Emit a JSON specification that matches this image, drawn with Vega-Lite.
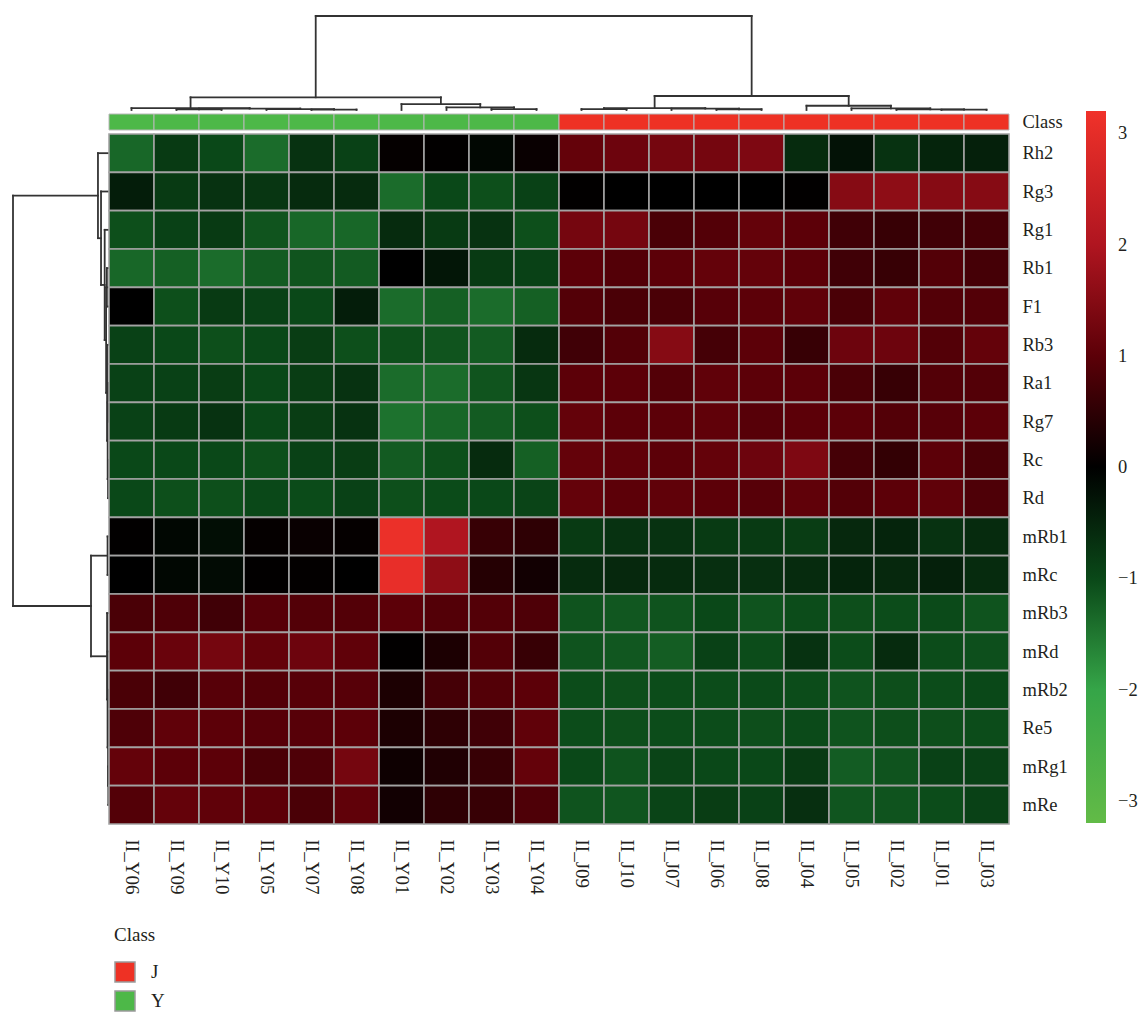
{
  "$schema": "https://vega.github.io/schema/vega-lite/v6.json",
  "padding": {"left": 11, "top": 14, "right": 0, "bottom": 0},
  "background": "white",
  "config": {"view": {"stroke": null}, "font": "Liberation Serif, DejaVu Serif, serif"},
  "bounds": "flush",
  "spacing": 0,
  "datasets": {
    "heat": [
      {"compound": "Rh2", "II_Y06": -1.33, "II_Y09": -0.8, "II_Y10": -1.0, "II_Y05": -1.39, "II_Y07": -0.7, "II_Y08": -0.9, "II_Y01": 0.05, "II_Y02": 0.02, "II_Y03": -0.1, "II_Y04": 0.1, "II_J09": 1.1, "II_J10": 1.2, "II_J07": 1.3, "II_J06": 1.3, "II_J08": 1.4, "II_J04": -0.6, "II_J05": -0.25, "II_J02": -0.7, "II_J01": -0.5, "II_J03": -0.45},
      {"compound": "Rg3", "II_Y06": -0.4, "II_Y09": -0.8, "II_Y10": -0.7, "II_Y05": -0.75, "II_Y07": -0.6, "II_Y08": -0.6, "II_Y01": -1.39, "II_Y02": -1.0, "II_Y03": -1.07, "II_Y04": -0.9, "II_J09": 0.02, "II_J10": 0.0, "II_J07": 0.0, "II_J06": 0.0, "II_J08": 0.0, "II_J04": 0.02, "II_J05": 1.5, "II_J02": 1.6, "II_J01": 1.5, "II_J03": 1.5},
      {"compound": "Rg1", "II_Y06": -1.07, "II_Y09": -0.9, "II_Y10": -0.8, "II_Y05": -1.13, "II_Y07": -1.33, "II_Y08": -1.33, "II_Y01": -0.6, "II_Y02": -0.8, "II_Y03": -0.7, "II_Y04": -1.07, "II_J09": 1.3, "II_J10": 1.3, "II_J07": 0.8, "II_J06": 0.9, "II_J08": 1.1, "II_J04": 1.0, "II_J05": 0.7, "II_J02": 0.6, "II_J01": 0.7, "II_J03": 0.75},
      {"compound": "Rb1", "II_Y06": -1.33, "II_Y09": -1.26, "II_Y10": -1.39, "II_Y05": -1.2, "II_Y07": -1.13, "II_Y08": -1.2, "II_Y01": 0.0, "II_Y02": -0.3, "II_Y03": -0.8, "II_Y04": -0.9, "II_J09": 1.0, "II_J10": 0.9, "II_J07": 1.0, "II_J06": 1.1, "II_J08": 1.1, "II_J04": 1.0, "II_J05": 0.7, "II_J02": 0.6, "II_J01": 0.9, "II_J03": 0.75},
      {"compound": "F1", "II_Y06": 0.0, "II_Y09": -1.07, "II_Y10": -0.8, "II_Y05": -0.9, "II_Y07": -1.0, "II_Y08": -0.4, "II_Y01": -1.39, "II_Y02": -1.26, "II_Y03": -1.39, "II_Y04": -1.26, "II_J09": 0.9, "II_J10": 0.8, "II_J07": 0.8, "II_J06": 0.95, "II_J08": 1.0, "II_J04": 1.05, "II_J05": 0.8, "II_J02": 1.05, "II_J01": 0.9, "II_J03": 0.9},
      {"compound": "Rb3", "II_Y06": -0.9, "II_Y09": -1.0, "II_Y10": -1.07, "II_Y05": -1.0, "II_Y07": -0.85, "II_Y08": -1.07, "II_Y01": -1.07, "II_Y02": -1.13, "II_Y03": -1.2, "II_Y04": -0.6, "II_J09": 0.7, "II_J10": 0.9, "II_J07": 1.5, "II_J06": 0.75, "II_J08": 1.0, "II_J04": 0.6, "II_J05": 1.2, "II_J02": 1.2, "II_J01": 0.9, "II_J03": 1.1},
      {"compound": "Ra1", "II_Y06": -0.9, "II_Y09": -0.9, "II_Y10": -0.85, "II_Y05": -1.0, "II_Y07": -0.85, "II_Y08": -0.7, "II_Y01": -1.39, "II_Y02": -1.39, "II_Y03": -1.13, "II_Y04": -0.75, "II_J09": 1.0, "II_J10": 1.0, "II_J07": 0.9, "II_J06": 1.05, "II_J08": 1.0, "II_J04": 1.0, "II_J05": 0.8, "II_J02": 0.6, "II_J01": 0.9, "II_J03": 0.9},
      {"compound": "Rg7", "II_Y06": -0.9, "II_Y09": -0.8, "II_Y10": -0.7, "II_Y05": -1.0, "II_Y07": -0.85, "II_Y08": -0.7, "II_Y01": -1.45, "II_Y02": -1.33, "II_Y03": -1.2, "II_Y04": -1.07, "II_J09": 1.1, "II_J10": 1.0, "II_J07": 1.0, "II_J06": 1.05, "II_J08": 0.95, "II_J04": 1.0, "II_J05": 1.0, "II_J02": 0.9, "II_J01": 0.95, "II_J03": 1.0},
      {"compound": "Rc", "II_Y06": -1.0, "II_Y09": -1.0, "II_Y10": -1.0, "II_Y05": -1.07, "II_Y07": -0.9, "II_Y08": -0.85, "II_Y01": -1.2, "II_Y02": -1.07, "II_Y03": -0.6, "II_Y04": -1.26, "II_J09": 1.1, "II_J10": 1.05, "II_J07": 1.0, "II_J06": 1.1, "II_J08": 1.2, "II_J04": 1.4, "II_J05": 0.75, "II_J02": 0.55, "II_J01": 1.0, "II_J03": 0.8},
      {"compound": "Rd", "II_Y06": -1.0, "II_Y09": -1.07, "II_Y10": -1.07, "II_Y05": -1.0, "II_Y07": -1.03, "II_Y08": -0.9, "II_Y01": -1.07, "II_Y02": -1.03, "II_Y03": -1.0, "II_Y04": -0.95, "II_J09": 1.1, "II_J10": 1.0, "II_J07": 1.05, "II_J06": 1.0, "II_J08": 0.95, "II_J04": 1.05, "II_J05": 0.9, "II_J02": 1.0, "II_J01": 1.05, "II_J03": 0.85},
      {"compound": "mRb1", "II_Y06": 0.02, "II_Y09": -0.1, "II_Y10": -0.2, "II_Y05": 0.05, "II_Y07": 0.1, "II_Y08": 0.05, "II_Y01": 3.1, "II_Y02": 2.0, "II_Y03": 0.6, "II_Y04": 0.5, "II_J09": -0.8, "II_J10": -0.7, "II_J07": -0.7, "II_J06": -0.8, "II_J08": -0.8, "II_J04": -0.85, "II_J05": -0.55, "II_J02": -0.5, "II_J01": -0.7, "II_J03": -0.6},
      {"compound": "mRc", "II_Y06": 0.0, "II_Y09": -0.1, "II_Y10": -0.15, "II_Y05": 0.02, "II_Y07": 0.03, "II_Y08": 0.0, "II_Y01": 3.05, "II_Y02": 1.6, "II_Y03": 0.4, "II_Y04": 0.2, "II_J09": -0.6, "II_J10": -0.55, "II_J07": -0.6, "II_J06": -0.65, "II_J08": -0.65, "II_J04": -0.6, "II_J05": -0.5, "II_J02": -0.55, "II_J01": -0.45, "II_J03": -0.6},
      {"compound": "mRb3", "II_Y06": 0.8, "II_Y09": 0.85, "II_Y10": 0.7, "II_Y05": 0.95, "II_Y07": 0.9, "II_Y08": 0.9, "II_Y01": 1.0, "II_Y02": 0.9, "II_Y03": 0.9, "II_Y04": 0.85, "II_J09": -1.12, "II_J10": -1.16, "II_J07": -1.12, "II_J06": -1.0, "II_J08": -1.12, "II_J04": -1.04, "II_J05": -1.06, "II_J02": -1.04, "II_J01": -1.02, "II_J03": -1.12},
      {"compound": "mRd", "II_Y06": 1.0, "II_Y09": 1.15, "II_Y10": 1.3, "II_Y05": 1.1, "II_Y07": 1.2, "II_Y08": 1.05, "II_Y01": 0.02, "II_Y02": 0.3, "II_Y03": 0.9, "II_Y04": 0.6, "II_J09": -1.12, "II_J10": -1.16, "II_J07": -1.23, "II_J06": -0.9, "II_J08": -1.04, "II_J04": -0.7, "II_J05": -1.04, "II_J02": -0.6, "II_J01": -1.04, "II_J03": -1.08},
      {"compound": "mRb2", "II_Y06": 0.8, "II_Y09": 0.7, "II_Y10": 0.95, "II_Y05": 0.9, "II_Y07": 0.95, "II_Y08": 0.95, "II_Y01": 0.3, "II_Y02": 0.75, "II_Y03": 0.9, "II_Y04": 1.0, "II_J09": -1.04, "II_J10": -1.06, "II_J07": -1.04, "II_J06": -1.04, "II_J08": -1.02, "II_J04": -1.04, "II_J05": -1.12, "II_J02": -1.06, "II_J01": -1.04, "II_J03": -1.0},
      {"compound": "Re5", "II_Y06": 0.85, "II_Y09": 1.05, "II_Y10": 1.0, "II_Y05": 0.95, "II_Y07": 0.95, "II_Y08": 1.0, "II_Y01": 0.3, "II_Y02": 0.5, "II_Y03": 0.7, "II_Y04": 1.05, "II_J09": -1.04, "II_J10": -1.06, "II_J07": -1.04, "II_J06": -1.04, "II_J08": -1.06, "II_J04": -1.02, "II_J05": -1.12, "II_J02": -1.06, "II_J01": -1.06, "II_J03": -1.04},
      {"compound": "mRg1", "II_Y06": 1.1, "II_Y09": 1.0, "II_Y10": 1.0, "II_Y05": 0.8, "II_Y07": 0.85, "II_Y08": 1.3, "II_Y01": 0.15, "II_Y02": 0.35, "II_Y03": 0.6, "II_Y04": 1.1, "II_J09": -1.0, "II_J10": -1.12, "II_J07": -0.95, "II_J06": -1.0, "II_J08": -1.0, "II_J04": -0.8, "II_J05": -1.22, "II_J02": -1.12, "II_J01": -0.9, "II_J03": -0.9},
      {"compound": "mRe", "II_Y06": 0.9, "II_Y09": 1.1, "II_Y10": 1.05, "II_Y05": 1.0, "II_Y07": 0.8, "II_Y08": 1.05, "II_Y01": 0.2, "II_Y02": 0.5, "II_Y03": 0.6, "II_Y04": 0.85, "II_J09": -1.12, "II_J10": -1.14, "II_J07": -0.95, "II_J06": -0.85, "II_J08": -0.9, "II_J04": -0.65, "II_J05": -1.14, "II_J02": -1.12, "II_J01": -1.04, "II_J03": -0.9}
    ],
    "classes": [
      {"sample": "II_Y06", "Class": "Y"}, {"sample": "II_Y09", "Class": "Y"}, {"sample": "II_Y10", "Class": "Y"}, {"sample": "II_Y05", "Class": "Y"}, {"sample": "II_Y07", "Class": "Y"},
      {"sample": "II_Y08", "Class": "Y"}, {"sample": "II_Y01", "Class": "Y"}, {"sample": "II_Y02", "Class": "Y"}, {"sample": "II_Y03", "Class": "Y"}, {"sample": "II_Y04", "Class": "Y"},
      {"sample": "II_J09", "Class": "J"}, {"sample": "II_J10", "Class": "J"}, {"sample": "II_J07", "Class": "J"}, {"sample": "II_J06", "Class": "J"}, {"sample": "II_J08", "Class": "J"},
      {"sample": "II_J04", "Class": "J"}, {"sample": "II_J05", "Class": "J"}, {"sample": "II_J02", "Class": "J"}, {"sample": "II_J01", "Class": "J"}, {"sample": "II_J03", "Class": "J"}
    ],
    "colTree": [
      {"a": 4.5, "b": 5.5, "ha": 0, "hb": 0, "h": 0.05},
      {"a": 3.5, "b": 5.0, "ha": 0, "hb": 0.05, "h": 0.1},
      {"a": 1.5, "b": 2.5, "ha": 0, "hb": 0, "h": 0.08},
      {"a": 2.0, "b": 4.25, "ha": 0.08, "hb": 0.1, "h": 0.15},
      {"a": 0.5, "b": 3.125, "ha": 0, "hb": 0.15, "h": 0.2},
      {"a": 8.5, "b": 9.5, "ha": 0, "hb": 0, "h": 0.1},
      {"a": 7.5, "b": 9.0, "ha": 0, "hb": 0.1, "h": 0.28},
      {"a": 6.5, "b": 8.25, "ha": 0, "hb": 0.28, "h": 0.63},
      {"a": 1.8125, "b": 7.375, "ha": 0.2, "hb": 0.63, "h": 1.35},
      {"a": 10.5, "b": 11.5, "ha": 0, "hb": 0, "h": 0.1},
      {"a": 13.5, "b": 14.5, "ha": 0, "hb": 0, "h": 0.08},
      {"a": 12.5, "b": 14.0, "ha": 0, "hb": 0.08, "h": 0.15},
      {"a": 11.0, "b": 13.25, "ha": 0.1, "hb": 0.15, "h": 0.2},
      {"a": 18.5, "b": 19.5, "ha": 0, "hb": 0, "h": 0.03},
      {"a": 17.5, "b": 19.0, "ha": 0, "hb": 0.03, "h": 0.07},
      {"a": 16.5, "b": 18.25, "ha": 0, "hb": 0.07, "h": 0.17},
      {"a": 15.5, "b": 17.375, "ha": 0, "hb": 0.17, "h": 0.45},
      {"a": 12.125, "b": 16.4375, "ha": 0.2, "hb": 0.45, "h": 1.49},
      {"a": 4.59375, "b": 14.28125, "ha": 1.35, "hb": 1.49, "h": 10}
    ],
    "rowTree": [
      {"a": 3.5, "b": 4.5, "ha": 0, "hb": 0, "h": 0.22},
      {"a": 6.5, "b": 7.5, "ha": 0, "hb": 0, "h": 0.08},
      {"a": 8.5, "b": 9.5, "ha": 0, "hb": 0, "h": 0.1},
      {"a": 7.0, "b": 9.0, "ha": 0.08, "hb": 0.1, "h": 0.14},
      {"a": 5.5, "b": 8.0, "ha": 0, "hb": 0.14, "h": 0.2},
      {"a": 4.0, "b": 6.75, "ha": 0.22, "hb": 0.2, "h": 0.3},
      {"a": 2.5, "b": 5.375, "ha": 0, "hb": 0.3, "h": 0.45},
      {"a": 1.5, "b": 3.9375, "ha": 0, "hb": 0.45, "h": 0.83},
      {"a": 0.5, "b": 2.71875, "ha": 0, "hb": 0.83, "h": 1.15},
      {"a": 10.5, "b": 11.5, "ha": 0, "hb": 0, "h": 0.15},
      {"a": 14.5, "b": 15.5, "ha": 0, "hb": 0, "h": 0.06},
      {"a": 16.5, "b": 17.5, "ha": 0, "hb": 0, "h": 0.07},
      {"a": 15.0, "b": 17.0, "ha": 0.06, "hb": 0.07, "h": 0.1},
      {"a": 13.5, "b": 16.0, "ha": 0, "hb": 0.1, "h": 0.15},
      {"a": 12.5, "b": 14.75, "ha": 0, "hb": 0.15, "h": 0.2},
      {"a": 11.0, "b": 13.625, "ha": 0.15, "hb": 0.2, "h": 1.875},
      {"a": 1.609375, "b": 12.3125, "ha": 1.15, "hb": 1.875, "h": 10}
    ]
  },
  "hconcat": [
    {
      "width": 96,
      "height": 808,
      "data": {"name": "rowTree"},
      "layer": [
        {
          "mark": {"type": "rule", "color": "#333333", "strokeWidth": 1.8, "strokeCap": "square"},
          "encoding": {
            "x": {"field": "h", "type": "quantitative", "scale": {"domain": [0, 10], "reverse": true, "nice": false, "zero": false}, "axis": null},
            "y": {"field": "a", "type": "quantitative", "scale": {"domain": [-3.0783, 18], "reverse": true, "nice": false, "zero": false}, "axis": null},
            "y2": {"field": "b"}
          }
        },
        {
          "mark": {"type": "rule", "color": "#333333", "strokeWidth": 1.8, "strokeCap": "square"},
          "encoding": {
            "x": {"field": "ha", "type": "quantitative", "scale": {"domain": [0, 10], "reverse": true, "nice": false, "zero": false}, "axis": null},
            "x2": {"field": "h"},
            "y": {"field": "a", "type": "quantitative", "scale": {"domain": [-3.0783, 18], "reverse": true, "nice": false, "zero": false}, "axis": null}
          }
        },
        {
          "mark": {"type": "rule", "color": "#333333", "strokeWidth": 1.8, "strokeCap": "square"},
          "encoding": {
            "x": {"field": "hb", "type": "quantitative", "scale": {"domain": [0, 10], "reverse": true, "nice": false, "zero": false}, "axis": null},
            "x2": {"field": "h"},
            "y": {"field": "b", "type": "quantitative", "scale": {"domain": [-3.0783, 18], "reverse": true, "nice": false, "zero": false}, "axis": null}
          }
        }
      ]
    },
    {
      "spacing": 4,
      "bounds": "flush",
      "resolve": {
        "scale": {"color": "independent", "fill": "independent"},
        "legend": {"color": "independent", "fill": "independent"}
      },
      "vconcat": [
        {
          "width": 900,
          "height": 94,
          "data": {"name": "colTree"},
          "layer": [
            {
              "mark": {"type": "rule", "color": "#333333", "strokeWidth": 1.8, "strokeCap": "square"},
              "encoding": {
                "x": {"field": "a", "type": "quantitative", "scale": {"domain": [0, 20], "nice": false, "zero": false}, "axis": null},
                "x2": {"field": "b"},
                "y": {"field": "h", "type": "quantitative", "scale": {"domain": [0, 10], "nice": false, "zero": false}, "axis": null}
              }
            },
            {
              "mark": {"type": "rule", "color": "#333333", "strokeWidth": 1.8, "strokeCap": "square"},
              "encoding": {
                "x": {"field": "a", "type": "quantitative", "scale": {"domain": [0, 20], "nice": false, "zero": false}, "axis": null},
                "y": {"field": "ha", "type": "quantitative", "scale": {"domain": [0, 10], "nice": false, "zero": false}, "axis": null},
                "y2": {"field": "h"}
              }
            },
            {
              "mark": {"type": "rule", "color": "#333333", "strokeWidth": 1.8, "strokeCap": "square"},
              "encoding": {
                "x": {"field": "b", "type": "quantitative", "scale": {"domain": [0, 20], "nice": false, "zero": false}, "axis": null},
                "y": {"field": "hb", "type": "quantitative", "scale": {"domain": [0, 10], "nice": false, "zero": false}, "axis": null},
                "y2": {"field": "h"}
              }
            }
          ]
        },
        {
          "width": 900,
          "height": 16,
          "data": {"name": "classes"},
          "mark": {"type": "rect", "stroke": "#b8b8b8", "strokeWidth": 1},
          "encoding": {
            "x": {
              "field": "sample", "type": "nominal",
              "sort": ["II_Y06","II_Y09","II_Y10","II_Y05","II_Y07","II_Y08","II_Y01","II_Y02","II_Y03","II_Y04","II_J09","II_J10","II_J07","II_J06","II_J08","II_J04","II_J05","II_J02","II_J01","II_J03"],
              "scale": {"paddingInner": 0, "paddingOuter": 0},
              "axis": null
            },
            "y": {
              "datum": "Class", "type": "nominal",
              "scale": {"paddingInner": 0, "paddingOuter": 0},
              "axis": {"orient": "right", "title": null, "ticks": false, "domain": false, "labelPadding": 13, "labelFont": "Liberation Serif, DejaVu Serif, serif", "labelFontSize": 18.5, "labelColor": "#231f20"}
            },
            "fill": {
              "field": "Class", "type": "nominal",
              "scale": {"domain": ["J", "Y"], "range": ["#ee3124", "#4db848"]},
              "legend": {
                "title": "Class", "orient": "none", "legendX": 5, "legendY": 812, "direction": "vertical",
                "padding": 0, "symbolType": "square", "symbolSize": 400, "symbolStrokeColor": "#9a9a9a", "symbolStrokeWidth": 1.5,
                "labelFont": "Liberation Serif, DejaVu Serif, serif", "labelFontSize": 19, "labelColor": "#231f20", "labelOffset": 15,
                "titleFont": "Liberation Serif, DejaVu Serif, serif", "titleFontSize": 19, "titleFontWeight": "normal", "titleColor": "#231f20",
                "titlePadding": 16, "rowPadding": 3
              }
            }
          }
        },
        {
          "width": 900,
          "height": 690,
          "data": {"name": "heat"},
          "transform": [
            {"fold": ["II_Y06","II_Y09","II_Y10","II_Y05","II_Y07","II_Y08","II_Y01","II_Y02","II_Y03","II_Y04","II_J09","II_J10","II_J07","II_J06","II_J08","II_J04","II_J05","II_J02","II_J01","II_J03"], "as": ["sample", "value"]}
          ],
          "mark": {"type": "rect", "stroke": "#a3a3a3", "strokeWidth": 1.6},
          "encoding": {
            "x": {
              "field": "sample", "type": "nominal",
              "sort": ["II_Y06","II_Y09","II_Y10","II_Y05","II_Y07","II_Y08","II_Y01","II_Y02","II_Y03","II_Y04","II_J09","II_J10","II_J07","II_J06","II_J08","II_J04","II_J05","II_J02","II_J01","II_J03"],
              "scale": {"paddingInner": 0, "paddingOuter": 0},
              "axis": {"orient": "bottom", "title": null, "labelAngle": 90, "ticks": false, "domain": false, "labelPadding": 15, "labelFont": "Liberation Serif, DejaVu Serif, serif", "labelFontSize": 19, "labelColor": "#231f20"}
            },
            "y": {
              "field": "compound", "type": "nominal",
              "sort": ["Rh2","Rg3","Rg1","Rb1","F1","Rb3","Ra1","Rg7","Rc","Rd","mRb1","mRc","mRb3","mRd","mRb2","Re5","mRg1","mRe"],
              "scale": {"paddingInner": 0, "paddingOuter": 0},
              "axis": {"orient": "right", "title": null, "ticks": false, "domain": false, "labelPadding": 13, "labelFont": "Liberation Serif, DejaVu Serif, serif", "labelFontSize": 18.5, "labelColor": "#231f20"}
            },
            "color": {
              "field": "value", "type": "quantitative",
              "scale": {
                "domain": [-3.2, -2, -1, 0, 1, 2, 3.2],
                "range": ["#62bb47", "#35a548", "#0a4818", "#000000", "#5c0008", "#b01520", "#f0322a"],
                "interpolate": "rgb"
              },
              "legend": {
                "title": null, "orient": "none", "legendX": 977, "legendY": -23, "direction": "vertical",
                "padding": 0, "gradientLength": 712, "gradientThickness": 20, "gradientStrokeWidth": 0,
                "values": [3, 2, 1, 0, -1, -2, -3], "format": "d",
                "labelFont": "Liberation Serif, DejaVu Serif, serif", "labelFontSize": 18.5, "labelColor": "#231f20", "labelOffset": 12
              }
            }
          }
        }
      ]
    }
  ]
}
